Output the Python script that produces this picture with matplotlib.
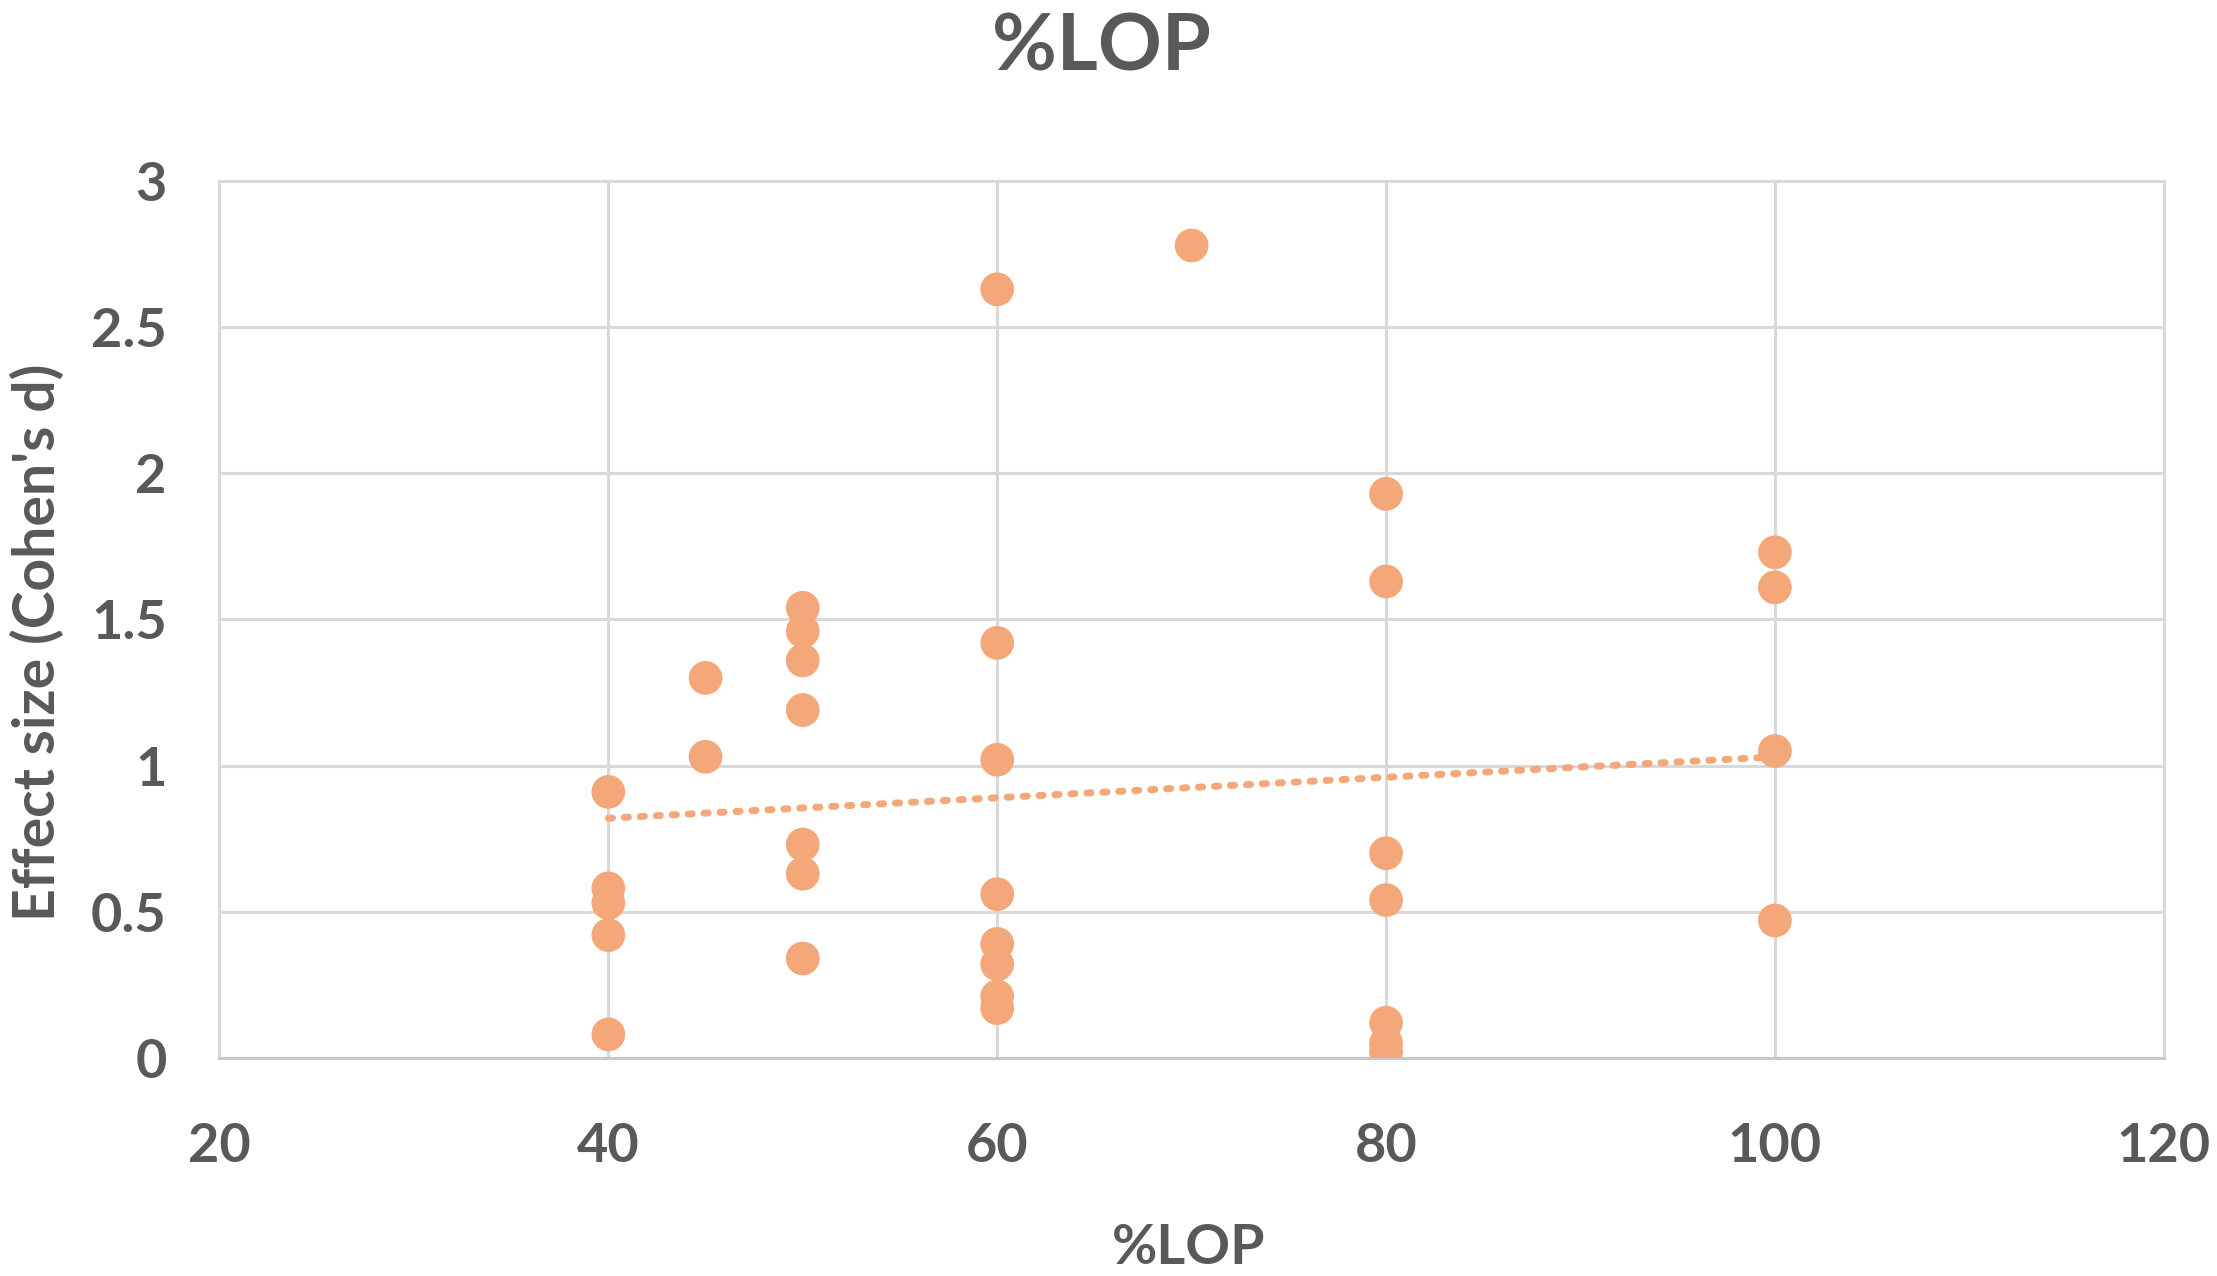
import numpy as np
import matplotlib
matplotlib.use("Agg")
import matplotlib.pyplot as plt

# %LOP 값별 효과크기 (Cohen's d), 그림에서 읽은 값
lop_40 = [0.91, 0.58, 0.53, 0.42, 0.08]
lop_45 = [1.30, 1.03]
lop_50 = [1.54, 1.46, 1.36, 1.19, 0.73, 0.63, 0.34]
lop_60 = [2.63, 1.42, 1.02, 0.56, 0.39, 0.32, 0.21, 0.17]
lop_70 = [2.78]
lop_80 = [1.93, 1.63, 0.70, 0.54, 0.12, 0.05, 0.02]
lop_100 = [1.73, 1.61, 1.05, 0.47]

# 엑셀 선형 추세선 (양 끝값을 그림에서 읽음)
trend_x = [40, 100]
trend_y = [0.82, 1.03]

groups = [(40, lop_40), (45, lop_45), (50, lop_50), (60, lop_60),
          (70, lop_70), (80, lop_80), (100, lop_100)]
x = np.array([g for g, vals in groups for _ in vals], dtype=float)
y = np.array([v for _, vals in groups for v in vals])

x_ticks = [20, 40, 60, 80, 100, 120]
y_ticks = [0, 0.5, 1, 1.5, 2, 2.5, 3]
y_ticklabels = ["0", "0.5", "1", "1.5", "2", "2.5", "3"]

DOT = "#F4A779"
TXT = "#595959"
GRID = "#D9D9D9"

plt.rcParams["font.family"] = ["Lato", "DejaVu Sans"]

fig = plt.figure(figsize=(22.17, 12.76), dpi=100)
ax = fig.add_axes([0.099, 0.171, 0.877, 0.687])

ax.scatter(x, y, s=590, color=DOT, edgecolors="none", zorder=3)
ax.plot(trend_x, trend_y, color=DOT, lw=5, ls=(0, (0.6, 1.7)),
        dash_capstyle="round", zorder=2)

ax.set_xlim(20, 120)
ax.set_ylim(0, 3)
ax.set_xticks(x_ticks)
ax.set_yticks(y_ticks)
ax.set_yticklabels(y_ticklabels)
ax.grid(True, color=GRID, lw=2.2)
ax.set_axisbelow(True)
for sp in ax.spines.values():
    sp.set_color(GRID)
    sp.set_linewidth(2.2)
ax.spines["bottom"].set_color("#C8C8C8")
ax.tick_params(length=0, labelsize=39, labelcolor=TXT)
ax.tick_params(axis="y", pad=38)
ax.tick_params(axis="x", pad=46)
for lab in ax.get_xticklabels() + ax.get_yticklabels():
    lab.set_fontweight("bold")

fig.text(0.497, 0.962, "%LOP", ha="center", va="center", fontsize=57,
         fontweight="bold", color=TXT)
fig.text(0.536, 0.022, "%LOP", ha="center", va="center", fontsize=40,
         fontweight="bold", color=TXT)
fig.text(0.017, 0.497, "Effect size (Cohen's d)", ha="center", va="center",
         rotation=90, fontsize=41, fontweight="bold", color=TXT)

fig.savefig("out.png", dpi=100, facecolor="white")
